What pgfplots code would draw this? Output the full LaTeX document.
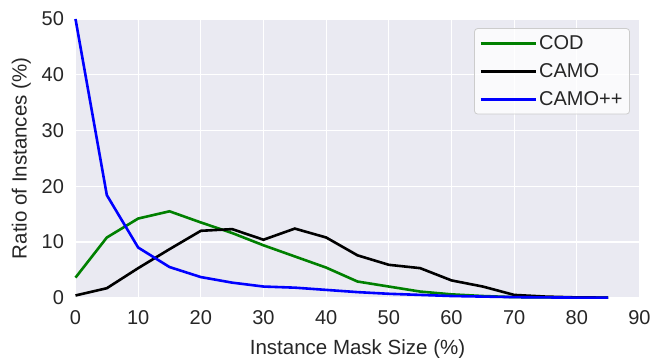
\documentclass[border=0pt]{standalone}
\usepackage{pgfplots}
\pgfplotsset{compat=1.18}
\usepackage{fontspec}
\setmainfont{Liberation Sans}
\definecolor{sbbg}{HTML}{EAEAF2}
\definecolor{sbtext}{HTML}{262626}
\definecolor{mplgreen}{RGB}{0,128,0}
\begin{document}
\begin{tikzpicture}
\useasboundingbox (-75.5pt,-60.3pt) rectangle (578.5pt,297.7pt);
\begin{axis}[
  at={(0,0)}, anchor=south west,
  scale only axis, width=564pt, height=278.7pt,
  xmin=0, xmax=90, ymin=0, ymax=50,
  xtick={0,10,...,90}, ytick={0,10,...,50},
  axis background/.style={fill=sbbg},
  axis line style={draw=none},
  major tick length=0pt,
  grid=major,
  major grid style={white, line width=1.3pt},
  tick label style={font=\fontsize{20}{24}\selectfont, text=sbtext},
  xticklabel style={yshift=-9pt},
  yticklabel style={xshift=-8pt},
  label style={font=\fontsize{20.5}{24}\selectfont, text=sbtext},
  /pgf/number format/assume math mode=true,
  xlabel={Instance Mask Size (\%)},
  ylabel={Ratio of Instances (\%)},
  xlabel style={yshift=-8pt},
  ylabel style={yshift=4pt},
  legend style={at={(0.983,0.967)}, anchor=north east, fill=white, fill opacity=0.8, text opacity=1, text=sbtext, draw=black!20, line width=0.8pt, rounded corners=3pt, font=\fontsize{20}{24}\selectfont, row sep=8.5pt, inner xsep=5pt, inner ysep=5pt},
  legend cell align=left,
  legend image code/.code={\draw[#1, line width=2.6pt] (0pt,0pt) -- (43pt,0pt); \path (0pt,0pt) -- (55pt,0pt);},
  clip=false,
]
\addplot[mplgreen, line width=2.6pt] coordinates {
(0,3.6) (5,10.8) (10,14.2) (15,15.5) (20,13.5) (25,11.6) (30,9.4) (35,7.4) (40,5.4) (45,2.9) (50,2.0) (55,1.1) (60,0.6) (65,0.3) (70,0.1) (75,0.05) (80,0.02) (85,0.01)};
\addlegendentry{COD}
\addplot[black, line width=2.6pt] coordinates {
(0,0.4) (5,1.7) (10,5.3) (15,8.7) (20,12.0) (25,12.3) (30,10.4) (35,12.4) (40,10.8) (45,7.6) (50,5.9) (55,5.3) (60,3.1) (65,2.0) (70,0.5) (75,0.2) (80,0.05) (85,0.01)};
\addlegendentry{CAMO}
\addplot[blue, line width=2.6pt] coordinates {
(0,50) (5,18.4) (10,9.0) (15,5.5) (20,3.7) (25,2.7) (30,2.0) (35,1.8) (40,1.4) (45,1.0) (50,0.7) (55,0.5) (60,0.3) (65,0.2) (70,0.1) (75,0.05) (80,0.02) (85,0.01)};
\addlegendentry{CAMO++}
\end{axis}
\end{tikzpicture}
\end{document}
